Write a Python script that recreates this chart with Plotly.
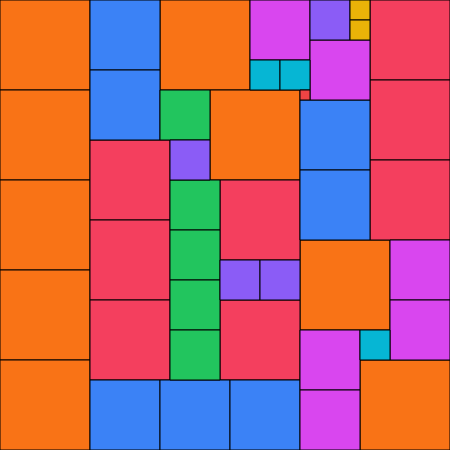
import plotly.graph_objects as go

# Partridge tiling of order 9: n squares of side n (units of 10 px), n = 1..9
sizes = [9, 8, 7, 6, 5, 4, 3, 2, 1]
colors = ["#F97316", "#F43F5E", "#3B82F6", "#D946EF", "#22C55E",
          "#8B5CF6", "#06B6D4", "#EAB308", "#EF4444"]

# top-left corners (column, row) of each square, grouped by side length
x_pos = {
    9: [0, 0, 0, 0, 0, 16, 21, 30, 36],
    8: [9, 9, 9, 37, 37, 37, 22, 22],
    7: [9, 9, 9, 30, 30, 16, 23],
    6: [25, 31, 39, 39, 30, 30],
    5: [16, 17, 17, 17, 17],
    4: [31, 17, 22, 26],
    3: [25, 28, 36],
    2: [35, 35],
    1: [30],
}
y_pos = {
    9: [0, 9, 18, 27, 36, 0, 9, 24, 36],
    8: [14, 22, 30, 0, 8, 16, 18, 30],
    7: [0, 7, 38, 10, 17, 38, 38],
    6: [0, 4, 24, 30, 33, 39],
    5: [9, 18, 23, 28, 33],
    4: [0, 14, 26, 26],
    3: [6, 6, 33],
    2: [0, 2],
    1: [9],
}
total = 45

fig = go.Figure()
for s, c in zip(sizes, colors):
    xs = x_pos[s]
    ys = y_pos[s]
    fig.add_trace(go.Bar(
        x=[x + s / 2 for x in xs],
        y=[s] * len(xs),
        base=ys,
        width=[s] * len(xs),
        marker=dict(color=c, line=dict(color="black", width=1)),
        hoverinfo="skip",
        showlegend=False,
    ))

fig.update_layout(
    width=450, height=450, autosize=False,
    margin=dict(l=0, r=0, t=0, b=0, pad=0),
    barmode="overlay",
    paper_bgcolor="white", plot_bgcolor="white",
    xaxis=dict(range=[0, total], visible=False, fixedrange=True),
    yaxis=dict(range=[total, 0], visible=False, fixedrange=True),
)
fig.write_html(
    "out.html",
    config={"displayModeBar": False},
    post_script="document.body.style.margin='0';document.body.style.overflow='hidden';",
)
